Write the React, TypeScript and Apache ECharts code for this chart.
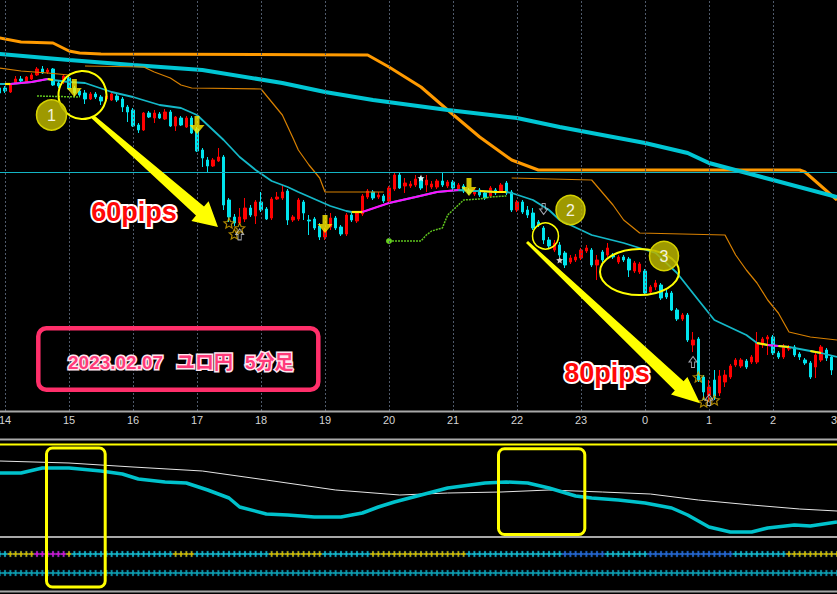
import React, { useEffect, useRef } from 'react';
import * as echarts from 'echarts';

// ---------- time axis: 5-minute bars, 13:55 -> 03:00 ----------
const firstBarMinutes = 13 * 60 + 55;
const barMinutes = 5;
const barCount = 158;
const times: string[] = [];
for (let i = 0; i < barCount; i++) {
  const m = firstBarMinutes + barMinutes * i;
  times.push(`${Math.floor(m / 60) % 24}:${String(m % 60).padStart(2, '0')}`);
}
const hourTimes = times.filter((t) => t.endsWith(':00'));

// ---------- EUR/JPY 5-minute candles [open, close, low, high] ----------
const candles: number[][] = [
  [141.56, 141.535, 141.525, 141.57],
  [141.56, 141.545, 141.535, 141.57],
  [141.54, 141.575, 141.535, 141.585],
  [141.585, 141.605, 141.58, 141.62],
  [141.605, 141.595, 141.585, 141.62],
  [141.59, 141.615, 141.585, 141.62],
  [141.605, 141.625, 141.6, 141.635],
  [141.625, 141.655, 141.62, 141.665],
  [141.655, 141.635, 141.63, 141.67],
  [141.64, 141.65, 141.63, 141.66],
  [141.655, 141.575, 141.57, 141.66],
  [141.585, 141.57, 141.56, 141.595],
  [141.59, 141.62, 141.58, 141.63],
  [141.61, 141.555, 141.55, 141.62],
  [141.56, 141.535, 141.52, 141.57],
  [141.545, 141.525, 141.515, 141.555],
  [141.535, 141.505, 141.48, 141.55],
  [141.505, 141.53, 141.5, 141.54],
  [141.53, 141.515, 141.505, 141.54],
  [141.515, 141.495, 141.475, 141.525],
  [141.505, 141.52, 141.495, 141.535],
  [141.5, 141.53, 141.495, 141.54],
  [141.52, 141.5, 141.49, 141.53],
  [141.505, 141.465, 141.44, 141.515],
  [141.465, 141.44, 141.39, 141.475],
  [141.45, 141.37, 141.365, 141.46],
  [141.375, 141.35, 141.335, 141.385],
  [141.35, 141.435, 141.345, 141.44],
  [141.435, 141.415, 141.41, 141.445],
  [141.41, 141.435, 141.385, 141.45],
  [141.43, 141.41, 141.405, 141.44],
  [141.405, 141.44, 141.4, 141.455],
  [141.44, 141.37, 141.365, 141.45],
  [141.37, 141.415, 141.345, 141.42],
  [141.41, 141.375, 141.37, 141.42],
  [141.365, 141.41, 141.36, 141.42],
  [141.41, 141.335, 141.33, 141.42],
  [141.355, 141.245, 141.24, 141.365],
  [141.25, 141.21, 141.165, 141.26],
  [141.2, 141.17, 141.14, 141.215],
  [141.17, 141.2, 141.165, 141.21],
  [141.195, 141.215, 141.19, 141.26],
  [141.215, 140.975, 140.95, 141.225],
  [141.0, 140.915, 140.89, 141.01],
  [140.915, 140.885, 140.87, 140.93],
  [140.885, 140.915, 140.88, 140.96],
  [140.905, 140.96, 140.89, 141.01],
  [140.96, 140.925, 140.915, 140.975],
  [140.92, 140.99, 140.88, 141.0],
  [140.99, 140.95, 140.94, 141.04],
  [140.955, 140.905, 140.9, 140.965],
  [140.91, 141.005, 140.9, 141.015],
  [141.005, 141.015, 141.0, 141.04],
  [141.01, 141.04, 141.0, 141.075],
  [141.045, 140.9, 140.875, 141.055],
  [140.9, 140.915, 140.89, 140.925],
  [140.905, 141.0, 140.895, 141.01],
  [140.99, 140.935, 140.9, 141.0],
  [140.9, 140.895, 140.825, 140.925],
  [140.905, 140.86, 140.85, 140.915],
  [140.87, 140.815, 140.8, 140.885],
  [140.815, 140.85, 140.8, 140.86],
  [140.865, 140.91, 140.85, 140.935],
  [140.91, 140.86, 140.85, 140.92],
  [140.865, 140.83, 140.82, 140.875],
  [140.83, 140.925, 140.82, 140.935],
  [140.925, 140.9, 140.89, 140.935],
  [140.895, 140.935, 140.885, 140.945],
  [140.93, 141.02, 140.92, 141.03],
  [141.015, 141.045, 141.005, 141.055],
  [141.04, 141.01, 141.0, 141.05],
  [141.015, 141.025, 141.005, 141.04],
  [141.02, 140.995, 140.985, 141.03],
  [140.995, 141.06, 140.985, 141.07],
  [141.055, 141.125, 141.045, 141.135],
  [141.125, 141.06, 141.055, 141.135],
  [141.07, 141.085, 141.035, 141.11],
  [141.07, 141.08, 141.06, 141.095],
  [141.075, 141.105, 141.065, 141.125],
  [141.11, 141.06, 141.05, 141.12],
  [141.075, 141.1, 141.04, 141.125],
  [141.065, 141.08, 141.055, 141.095],
  [141.065, 141.095, 141.055, 141.105],
  [141.095, 141.075, 141.065, 141.135],
  [141.07, 141.09, 141.06, 141.1],
  [141.09, 141.06, 141.05, 141.1],
  [141.05, 141.075, 141.045, 141.085],
  [141.07, 141.045, 141.035, 141.08],
  [141.05, 141.035, 141.025, 141.06],
  [141.03, 141.05, 141.02, 141.06],
  [141.05, 141.025, 141.015, 141.06],
  [141.035, 141.01, 141.0, 141.045],
  [141.02, 141.06, 141.01, 141.07],
  [141.05, 141.035, 141.025, 141.06],
  [141.045, 141.075, 141.035, 141.085],
  [141.085, 141.035, 141.025, 141.095],
  [141.04, 140.95, 140.94, 141.05],
  [140.95, 140.99, 140.94, 141.0],
  [140.99, 140.94, 140.93, 141.0],
  [140.95, 140.925, 140.91, 140.97],
  [140.935, 140.86, 140.85, 140.96],
  [140.89, 140.875, 140.865, 140.9],
  [140.86, 140.8, 140.78, 140.87],
  [140.8, 140.77, 140.76, 140.815],
  [140.75, 140.785, 140.74, 140.8],
  [140.775, 140.725, 140.715, 140.79],
  [140.735, 140.675, 140.66, 140.745],
  [140.69, 140.71, 140.68, 140.725],
  [140.7, 140.715, 140.69, 140.73],
  [140.71, 140.75, 140.7, 140.76],
  [140.745, 140.76, 140.735, 140.775],
  [140.75, 140.675, 140.665, 140.76],
  [140.675, 140.7, 140.6, 140.725],
  [140.74, 140.7, 140.69, 140.75],
  [140.725, 140.76, 140.715, 140.785],
  [140.725, 140.715, 140.705, 140.735],
  [140.69, 140.715, 140.68, 140.725],
  [140.715, 140.7, 140.69, 140.725],
  [140.705, 140.65, 140.615, 140.715],
  [140.645, 140.685, 140.635, 140.695],
  [140.64, 140.68, 140.63, 140.69],
  [140.645, 140.535, 140.53, 140.655],
  [140.54, 140.565, 140.53, 140.575],
  [140.565, 140.585, 140.55, 140.6],
  [140.575, 140.51, 140.5, 140.585],
  [140.535, 140.515, 140.505, 140.55],
  [140.535, 140.45, 140.445, 140.545],
  [140.45, 140.405, 140.395, 140.46],
  [140.405, 140.425, 140.395, 140.435],
  [140.425, 140.3, 140.29, 140.435],
  [140.275, 140.3, 140.24, 140.34],
  [140.305, 140.1, 140.09, 140.315],
  [140.115, 140.04, 140.0, 140.125],
  [140.025, 140.065, 139.99, 140.1],
  [140.1, 140.02, 140.0, 140.15],
  [140.035, 140.12, 140.02, 140.15],
  [140.09, 140.125, 140.065, 140.15],
  [140.115, 140.17, 140.105, 140.18],
  [140.175, 140.2, 140.165, 140.21],
  [140.17, 140.2, 140.16, 140.21],
  [140.195, 140.165, 140.155, 140.205],
  [140.19, 140.215, 140.18, 140.225],
  [140.19, 140.285, 140.18, 140.34],
  [140.275, 140.305, 140.26, 140.315],
  [140.305, 140.315, 140.225, 140.325],
  [140.315, 140.235, 140.225, 140.325],
  [140.235, 140.215, 140.205, 140.245],
  [140.215, 140.27, 140.205, 140.28],
  [140.255, 140.265, 140.245, 140.275],
  [140.265, 140.225, 140.215, 140.275],
  [140.23, 140.215, 140.2, 140.24],
  [140.2, 140.185, 140.175, 140.21],
  [140.185, 140.115, 140.105, 140.195],
  [140.165, 140.225, 140.11, 140.24],
  [140.2, 140.265, 140.19, 140.275],
  [140.25, 140.21, 140.195, 140.26],
  [140.215, 140.15, 140.125, 140.225],
];

// ---------- indicator lines: [bar index, price] ----------
const slowBand = [
  [0, 141.81], [4, 141.79], [10, 141.785], [13, 141.745], [15, 141.735], [19, 141.73],
  [69, 141.725], [73, 141.665], [79, 141.565], [84, 141.45], [90, 141.315], [96, 141.2],
  [101, 141.15], [150, 141.15], [151, 141.14], [157, 141.0],
];
const slowMA = [
  [0, 141.73], [13, 141.7], [25, 141.675], [38, 141.65], [53, 141.585], [61, 141.54],
  [70, 141.5], [84, 141.45], [97, 141.41], [105, 141.365], [121, 141.285], [129, 141.235],
  [133, 141.185], [145, 141.1], [157, 141.015],
];
const stopA = [[0, 141.66], [4, 141.645], [9, 141.635], [13, 141.625]];
const stopB = [
  [16, 141.67], [27, 141.665], [29, 141.64], [32, 141.61], [34, 141.575], [36, 141.56],
  [49, 141.555], [53, 141.425], [55, 141.31], [56, 141.25], [58, 141.175], [60, 141.11],
  [61, 141.04], [72, 141.04],
];
const stopC = [
  [96, 141.11], [111, 141.1], [115, 140.975], [117, 140.9], [120, 140.835], [136, 140.825],
  [138, 140.725], [140, 140.65], [142, 140.585], [144, 140.5], [146, 140.435], [148, 140.34],
  [152, 140.315], [157, 140.3],
];
const fastMA = [
  [0, 141.58], [1, 141.58], [2, 141.58], [6, 141.59], [9, 141.605], [10, 141.6], [13, 141.59],
  [16, 141.585], [21, 141.54], [25, 141.515], [30, 141.475], [34, 141.46], [37, 141.425],
  [42, 141.3], [45, 141.215], [48, 141.15], [51, 141.095], [54, 141.065], [56, 141.04],
  [59, 141.005], [62, 140.97], [65, 140.945], [66, 140.94], [68, 140.94], [73, 140.985],
  [78, 141.015], [82, 141.04], [86, 141.05], [89, 141.045], [90, 141.045], [93, 141.04],
  [95, 141.04], [96, 141.035], [100, 141.0], [103, 140.95], [105, 140.9], [109, 140.85],
  [111, 140.825], [117, 140.785], [123, 140.735], [127, 140.635], [131, 140.5], [134, 140.4],
  [140, 140.325], [142, 140.285], [144, 140.275], [146, 140.27], [148, 140.265], [152, 140.245],
  [154, 140.235], [157, 140.215],
];
const maUpRanges = [[2, 9], [68, 86], [144, 146]];
const maFlatRanges = [[1, 2], [9, 10], [66, 68], [90, 95], [142, 144], [146, 148], [152, 154]];
const trailA = [[7, 141.52], [15, 141.515]];
const trailB = [
  [73, 140.795], [79, 140.795], [80, 140.825], [81, 140.845], [83, 140.86], [84, 140.925],
  [85, 140.95], [87, 141.0], [90, 141.005], [92, 141.015], [95, 141.02],
];
const bidPrice = 141.14;

// ---------- signal markers: [bar index, price] ----------
const sellSignals = [[14, 141.56], [37, 141.375], [61, 140.88], [88, 141.065]];
const whiteStars = [[79, 141.11], [105, 140.7]];
const goldStars = [[43, 140.885], [45, 140.86], [44, 140.83], [131, 140.115], [132, 139.99], [134, 140.0]];
const hollowUp = [[45, 140.828], [130, 140.19], [133, 140.0]];
const hollowDown = [[102, 140.955]];

// ---------- lower oscillator panel ----------
const oscSignal = [
  [0, 76], [13, 74], [25, 70], [38, 66], [50, 57], [63, 47], [75, 42], [84, 44], [94, 45],
  [103, 47], [113, 45], [122, 43], [131, 37], [141, 32], [150, 28], [157, 26],
];
const oscMain = [
  [0, 64], [4, 64], [8, 69], [13, 69], [19, 66], [23, 63], [26, 58], [31, 55], [35, 54],
  [39, 47], [43, 39], [45, 30], [50, 23], [54, 22], [59, 20], [64, 20], [68, 24], [71, 30],
  [74, 35], [79, 42], [84, 49], [91, 54], [95, 55], [99, 54], [103, 49], [108, 41], [111, 39],
  [116, 37], [121, 34], [126, 29], [129, 22], [133, 10], [137, 5], [141, 5], [144, 9],
  [149, 12], [152, 11], [157, 15],
];

// ---------- signal rows: [from bar, to bar, state] ----------
const trendRow = [
  [0, 1, 'c'], [2, 6, 'y'], [7, 12, 'm'], [13, 13, 'y'], [14, 32, 'c'], [33, 36, 'y'],
  [37, 50, 'c'], [51, 60, 'y'], [61, 69, 'c'], [70, 87, 'y'], [88, 105, 'c'], [106, 113, 'b'],
  [114, 121, 'c'], [122, 137, 'b'], [138, 147, 'c'], [148, 157, 'y'],
];
const baseRow = [[0, 157, 't']];
const stateColors: Record<string, string> = {
  c: '#19e3f5', y: '#ffe600', m: '#ff1cff', b: '#2f7dff', t: '#10c4d4',
};

function buildOption() {
  const mk = (data: any, color: string, width: number, extra: any = {}) => ({
    type: 'line', xAxisIndex: 0, yAxisIndex: 0, data, symbol: 'none', silent: true,
    lineStyle: { color, width }, z: 3, ...extra,
  });
  const startDot = (color: string) => ({
    symbol: 'circle', showSymbol: true,
    symbolSize: (_v: any, p: any) => (p.dataIndex === 0 ? 6 : 0),
    itemStyle: { color },
  });
  const rangePts = (r: number[]) => fastMA.filter((p) => p[0] >= r[0] && p[0] <= r[1]);

  const rowPoints = (runs: any[], row: string) => {
    const pts: any[] = [];
    runs.forEach((r) => {
      for (let k = r[0]; k <= r[1]; k++) {
        pts.push({ value: [k, row], itemStyle: { color: stateColors[r[2]], borderColor: '#0a3050', borderWidth: 0.5 } });
      }
    });
    return pts;
  };

  const arrowDown = 'path://M5,0H10V9H15L7.5,18L0,9H5Z';
  const star = 'path://M10,0L12.9,6.9L20,7.6L14.6,12.3L16.2,19.5L10,15.8L3.8,19.5L5.4,12.3L0,7.6L7.1,6.9Z';
  const hollow = 'path://M5,0L10,6H7V12H3V6H0Z';
  const plus = 'path://M2,0H4V2H6V4H4V6H2V4H0V2H2Z';

  const series: any[] = [
    {
      type: 'candlestick', xAxisIndex: 0, yAxisIndex: 0, data: candles, barWidth: 3, silent: true, z: 2,
      itemStyle: { color: '#ff0000', color0: '#00e4ee', borderColor: '#ff0000', borderColor0: '#00e4ee', borderWidth: 1 },
      markLine: {
        silent: true, symbol: 'none', label: { show: false }, animation: false,
        data: [
          ...hourTimes.map((t) => ({ xAxis: t, lineStyle: { color: '#4f5a6a', type: [2, 2], width: 1 } })),
          { yAxis: bidPrice, lineStyle: { color: '#13b4c4', type: 'solid', width: 1 } },
        ],
      },
    },
    mk(slowBand, '#ff9a00', 3),
    mk(slowMA, '#00c6d4', 4),
    mk(stopA, '#d88000', 1.2),
    mk(stopB, '#d88000', 1.2, startDot('#e08800')),
    mk(stopC, '#d88000', 1.2, startDot('#e08800')),
    mk(fastMA, '#14b8c8', 1.8),
    ...maUpRanges.map((r) => mk(rangePts(r), '#ff10ff', 2.2, { z: 4 })),
    ...maFlatRanges.map((r) => mk(rangePts(r), '#ffee00', 2.2, { z: 4 })),
    mk(trailA, '#5ec21e', 1.5, { ...startDot('#66d020'), lineStyle: { color: '#5ec21e', width: 1.5, type: [2, 1] } }),
    mk(trailB, '#5ec21e', 1.5, { ...startDot('#66d020'), lineStyle: { color: '#5ec21e', width: 1.5, type: [2, 1] } }),
    {
      type: 'scatter', xAxisIndex: 0, yAxisIndex: 0, data: sellSignals, symbol: arrowDown, symbolSize: [15, 18],
      itemStyle: { color: '#ffee00' }, z: 6, silent: true,
    },
    {
      type: 'scatter', xAxisIndex: 0, yAxisIndex: 0, data: whiteStars, symbol: star, symbolSize: 7,
      itemStyle: { color: '#ffffff' }, z: 6, silent: true,
    },
    {
      type: 'scatter', xAxisIndex: 0, yAxisIndex: 0, data: goldStars, symbol: star, symbolSize: 10,
      itemStyle: { color: 'rgba(0,0,0,0)', borderColor: '#d8a800', borderWidth: 1.2 }, z: 6, silent: true,
    },
    {
      type: 'scatter', xAxisIndex: 0, yAxisIndex: 0, data: hollowUp, symbol: hollow, symbolSize: [8, 11],
      itemStyle: { color: 'rgba(0,0,0,0)', borderColor: '#c8ccd8', borderWidth: 1 }, z: 6, silent: true,
    },
    {
      type: 'scatter', xAxisIndex: 0, yAxisIndex: 0, data: hollowDown, symbol: hollow, symbolSize: [8, 11], symbolRotate: 180,
      itemStyle: { color: 'rgba(0,0,0,0)', borderColor: '#c8ccd8', borderWidth: 1 }, z: 6, silent: true,
    },
    {
      type: 'line', xAxisIndex: 1, yAxisIndex: 1, data: oscSignal, symbol: 'none', silent: true,
      lineStyle: { color: '#e6e6e6', width: 1 },
    },
    {
      type: 'line', xAxisIndex: 1, yAxisIndex: 1, data: oscMain, symbol: 'none', silent: true,
      lineStyle: { color: '#00c2cc', width: 3.5 },
    },
    {
      type: 'scatter', xAxisIndex: 2, yAxisIndex: 2, data: rowPoints(trendRow, 'row1'), symbol: plus, symbolSize: 6, silent: true,
    },
    {
      type: 'scatter', xAxisIndex: 2, yAxisIndex: 2, data: rowPoints(baseRow, 'row2'), symbol: plus, symbolSize: 6, silent: true,
    },
  ];

  // ---------- hand-drawn annotations (pixel layout) ----------
  const yellow = '#ffff00';
  const olive = 'rgba(186,180,0,0.85)';
  const numText = (t: string, x: number, y: number) => ({
    type: 'text', z: 101, style: { text: t, x, y, fill: '#f4f4e0', font: '16px "Liberation Sans", Arial', textAlign: 'center', textVerticalAlign: 'middle' },
  });
  const bigText = (t: string, x: number, y: number) => ({
    type: 'text', z: 101,
    style: {
      text: t, x, y, fill: '#ff0808', stroke: '#ffffff', lineWidth: 4, strokeFirst: true,
      font: 'bold 27px "Liberation Sans", Arial', textAlign: 'center', textVerticalAlign: 'middle',
    },
  });
  const pinkText = (t: string, x: number) => ({
    type: 'text', z: 101,
    style: {
      text: t, x, y: 362, fill: '#ff3a7a', stroke: '#ffe4ee', lineWidth: 3, strokeFirst: true,
      font: 'bold 19px "Liberation Sans", "Noto Sans CJK JP", sans-serif', textAlign: 'left', textVerticalAlign: 'middle',
    },
  });
  const sep = (y: number, color: string) => ({
    type: 'line', z: 90, shape: { x1: 0, y1: y, x2: 837, y2: y }, style: { stroke: color, lineWidth: 2 },
  });

  const graphic = [
    sep(411.5, '#a8a8a8'), sep(439.5, '#a8a8a8'), sep(444.5, yellow), sep(537, '#a8a8a8'), sep(591.5, '#a8a8a8'),
    {
      type: 'polygon', z: 100,
      shape: { points: [[94.3, 115.5], [204, 206.6], [208.6, 201.3], [218, 227], [191.4, 220.9], [196, 215.6], [91.7, 118.5]] },
      style: { fill: yellow },
    },
    {
      type: 'polygon', z: 100,
      shape: { points: [[528, 240.9], [683.6, 381.2], [687.4, 377], [700, 403.3], [671, 394.6], [674.8, 390.4], [526, 243.1]] },
      style: { fill: yellow },
    },
    { type: 'circle', z: 100, shape: { cx: 82.5, cy: 95, r: 24 }, style: { fill: 'none', stroke: yellow, lineWidth: 2 } },
    { type: 'circle', z: 100, shape: { cx: 545.5, cy: 236, r: 13 }, style: { fill: 'none', stroke: yellow, lineWidth: 1.5 } },
    { type: 'ellipse', z: 100, shape: { cx: 639.5, cy: 272, rx: 39.5, ry: 23 }, style: { fill: 'none', stroke: yellow, lineWidth: 2 } },
    { type: 'circle', z: 100, shape: { cx: 51.5, cy: 115, r: 15 }, style: { fill: olive, stroke: '#d6d200', lineWidth: 1.5 } },
    { type: 'circle', z: 100, shape: { cx: 570.5, cy: 210, r: 14.5 }, style: { fill: olive, stroke: '#d6d200', lineWidth: 1.5 } },
    { type: 'circle', z: 100, shape: { cx: 664, cy: 256, r: 14.5 }, style: { fill: olive, stroke: '#d6d200', lineWidth: 1.5 } },
    numText('1', 51.5, 115.5), numText('2', 570.5, 210.5), numText('3', 664, 256.5),
    bigText('60pips', 134, 212), bigText('80pips', 607, 373),
    {
      type: 'rect', z: 100, shape: { x: 38.3, y: 328.3, width: 280, height: 61.4, r: 8 },
      style: { fill: 'none', stroke: '#ff2f6a', lineWidth: 4.5 },
    },
    pinkText('2023.02.07', 68), pinkText('ユロ円', 176), pinkText('5分足', 245),
    {
      type: 'rect', z: 100, shape: { x: 46.5, y: 448, width: 58.7, height: 139, r: 6 },
      style: { fill: 'none', stroke: yellow, lineWidth: 3 },
    },
    {
      type: 'rect', z: 100, shape: { x: 498.5, y: 448.8, width: 86.3, height: 85.7, r: 6 },
      style: { fill: 'none', stroke: yellow, lineWidth: 3 },
    },
  ];

  const gridW = barCount * (64 / 12);
  const gridBase = { left: -3, width: gridW, containLabel: false, outerBoundsMode: 'none' };
  return {
    animation: false,
    backgroundColor: '#000000',
    grid: [
      { ...gridBase, top: 0, height: 411 },
      { ...gridBase, top: 444, height: 93 },
      { ...gridBase, top: 544.5, height: 38 },
    ],
    xAxis: [
      {
        type: 'category', gridIndex: 0, data: times, boundaryGap: true,
        axisLine: { show: false }, axisTick: { show: false }, splitLine: { show: false },
        axisLabel: {
          interval: (i: number) => times[i].endsWith(':00'),
          formatter: (v: string) => v.split(':')[0],
          alignMaxLabel: 'right',
          color: '#d4d4d4', fontSize: 11, margin: 3, fontFamily: '"Liberation Sans", Arial',
        },
      },
      { type: 'category', gridIndex: 1, data: times, boundaryGap: true, show: false },
      { type: 'category', gridIndex: 2, data: times, boundaryGap: true, show: false },
    ],
    yAxis: [
      { type: 'value', gridIndex: 0, min: 139.945, max: 142.0, show: false, splitLine: { show: false } },
      { type: 'value', gridIndex: 1, min: 0, max: 93, show: false, splitLine: { show: false } },
      { type: 'category', gridIndex: 2, data: ['row2', 'row1'], show: false },
    ],
    series,
    graphic,
  };
}

export default function App() {
  const ref = useRef<HTMLDivElement>(null);
  useEffect(() => {
    if (!ref.current) return;
    const chart = echarts.init(ref.current, null, { renderer: 'svg' });
    chart.setOption(buildOption() as any);
    return () => chart.dispose();
  }, []);
  return (
    <div
      ref={ref}
      style={{ position: 'fixed', left: 0, top: 0, width: 837, height: 594, background: '#000' }}
    />
  );
}
